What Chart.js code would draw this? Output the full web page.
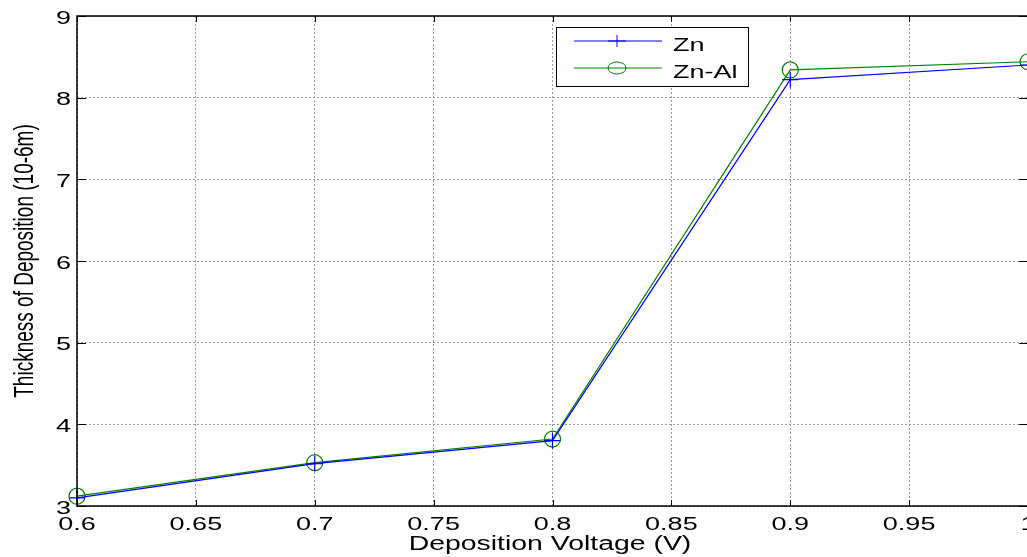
<!DOCTYPE html>
<html>
<head>
<meta charset="utf-8">
<script src="https://cdn.jsdelivr.net/npm/chart.js@4"></script>
<style>
  html, body { margin: 0; padding: 0; background: #fff; overflow: hidden; }
  #wrap { width: 1040px; height: 557px; }
</style>
</head>
<body>
<div id="wrap"><canvas id="chart" width="1040" height="557"></canvas></div>
<script>
// data
const voltage = [0.6, 0.7, 0.8, 0.9, 1.0];
const zn = [3.1, 3.52, 3.8, 8.22, 8.4];
const znAl = [3.12, 3.53, 3.82, 8.34, 8.44];
const xTicks = [0.6, 0.65, 0.7, 0.75, 0.8, 0.85, 0.9, 0.95, 1];
const yTicks = [3, 4, 5, 6, 7, 8, 9];
const xTitle = 'Deposition Voltage (V)';
const yTitle = 'Thickness of Deposition (10-6m)';

const pts = (ys) => voltage.map((x, i) => ({ x: x, y: ys[i] }));

// the exported figure is stretched sideways, so text is too
const FAMILY = '"Liberation Sans", Arial, sans-serif';

function wideText(ctx, str, x, y, align, size, stretch) {
    ctx.save();
    ctx.translate(x, y);
    ctx.scale(stretch || 1.5, 1);
    ctx.font = (size || 18) + 'px ' + FAMILY;
    ctx.textAlign = align;
    ctx.textBaseline = 'alphabetic';
    ctx.fillStyle = '#000';
    ctx.fillText(str, 0, 0);
    ctx.restore();
}

// MATLAB style box, labels and legend
const matlabLook = {
    id: 'matlabLook',
    afterDraw(chart) {
        const ctx = chart.ctx;
        const a = chart.chartArea;
        const xs = chart.scales.x, ys = chart.scales.y;
        ctx.save();
        ctx.strokeStyle = '#000';
        ctx.lineWidth = 1.5;
        ctx.strokeRect(a.left, a.top, a.right - a.left, a.bottom - a.top);

        // small inward tick marks
        ctx.lineWidth = 1;
        ctx.beginPath();
        xTicks.forEach(v => {
            const px = Math.round(xs.getPixelForValue(v)) + 0.5;
            ctx.moveTo(px, a.bottom); ctx.lineTo(px, a.bottom - 6);
            ctx.moveTo(px, a.top); ctx.lineTo(px, a.top + 6);
        });
        yTicks.forEach(v => {
            const py = Math.round(ys.getPixelForValue(v)) + 0.5;
            ctx.moveTo(a.left, py); ctx.lineTo(a.left + 9, py);
            ctx.moveTo(a.right, py); ctx.lineTo(a.right - 9, py);
        });
        ctx.stroke();

        xTicks.forEach(v => wideText(ctx, String(v), xs.getPixelForValue(v), 530, 'center'));
        yTicks.forEach(v => wideText(ctx, String(v), 71, ys.getPixelForValue(v) + 7.5, 'right'));
        wideText(ctx, xTitle, 550, 550, 'center', 20, 1.42);

        // rotated y title
        ctx.save();
        ctx.translate(33, (a.top + a.bottom) / 2);
        ctx.rotate(-Math.PI / 2);
        ctx.scale(1, 1.5);
        ctx.font = '19px ' + FAMILY;
        ctx.textAlign = 'center';
        ctx.textBaseline = 'alphabetic';
        ctx.fillStyle = '#000';
        ctx.fillText(yTitle, 0, 0);
        ctx.restore();

        // legend
        const lx = 556, ly = 27, lw = 192, lh = 59;
        ctx.fillStyle = '#fff';
        ctx.fillRect(lx, ly, lw, lh);
        ctx.strokeStyle = '#000';
        ctx.lineWidth = 1;
        ctx.strokeRect(lx + 0.5, ly + 0.5, lw, lh);
        const rows = [{ y: 41, ds: chart.data.datasets[0] }, { y: 68, ds: chart.data.datasets[1] }];
        rows.forEach(r => {
            ctx.strokeStyle = r.ds.borderColor;
            ctx.lineWidth = 1;
            ctx.beginPath();
            ctx.moveTo(574, r.y);
            ctx.lineTo(662, r.y);
            ctx.stroke();
            ctx.beginPath();
            if (r.ds.pointStyle === 'circle') {
                ctx.ellipse(617, r.y, 9, 6, 0, 0, Math.PI * 2);
            } else {
                ctx.moveTo(608, r.y); ctx.lineTo(626, r.y);
                ctx.moveTo(617, r.y - 6); ctx.lineTo(617, r.y + 6);
            }
            ctx.stroke();
            wideText(ctx, r.ds.label, 673, r.y + 9.5, 'left');
        });
        ctx.restore();
    }
};

const gridStyle = {
    color: '#9a9a9a',
    lineWidth: 1,
    drawTicks: false
};

new Chart(document.getElementById('chart'), {
    type: 'line',
    data: {
        datasets: [
            {
                label: 'Zn',
                data: pts(zn),
                borderColor: '#0000ff',
                backgroundColor: 'transparent',
                borderWidth: 1.2,
                pointStyle: 'cross',
                pointRadius: 8,
                pointBorderWidth: 1.2,
                pointBorderColor: '#0000ff',
                tension: 0,
                clip: false
            },
            {
                label: 'Zn-Al',
                data: pts(znAl),
                borderColor: '#008000',
                backgroundColor: 'transparent',
                borderWidth: 1.2,
                pointStyle: 'circle',
                pointRadius: 8,
                pointBorderWidth: 1.2,
                pointBorderColor: '#008000',
                pointBackgroundColor: 'transparent',
                tension: 0,
                clip: false
            }
        ]
    },
    options: {
        responsive: false,
        animation: false,
        layout: { padding: { top: 16, right: 12, left: 0, bottom: 0 } },
        plugins: { legend: { display: false }, tooltip: { enabled: false } },
        scales: {
            x: {
                type: 'linear',
                min: 0.6,
                max: 1.0,
                afterBuildTicks: (s) => { s.ticks = xTicks.map(v => ({ value: v })); },
                afterFit: (s) => { s.height = 51; },
                grid: Object.assign({ borderDash: [2, 2] }, gridStyle),
                border: { display: false, dash: [2, 2] },
                ticks: { display: false }
            },
            y: {
                min: 3,
                max: 9,
                afterBuildTicks: (s) => { s.ticks = yTicks.map(v => ({ value: v })); },
                afterFit: (s) => { s.width = 77; },
                grid: gridStyle,
                border: { display: false, dash: [2, 2] },
                ticks: { display: false }
            }
        }
    },
    plugins: [matlabLook]
});
</script>
</body>
</html>
